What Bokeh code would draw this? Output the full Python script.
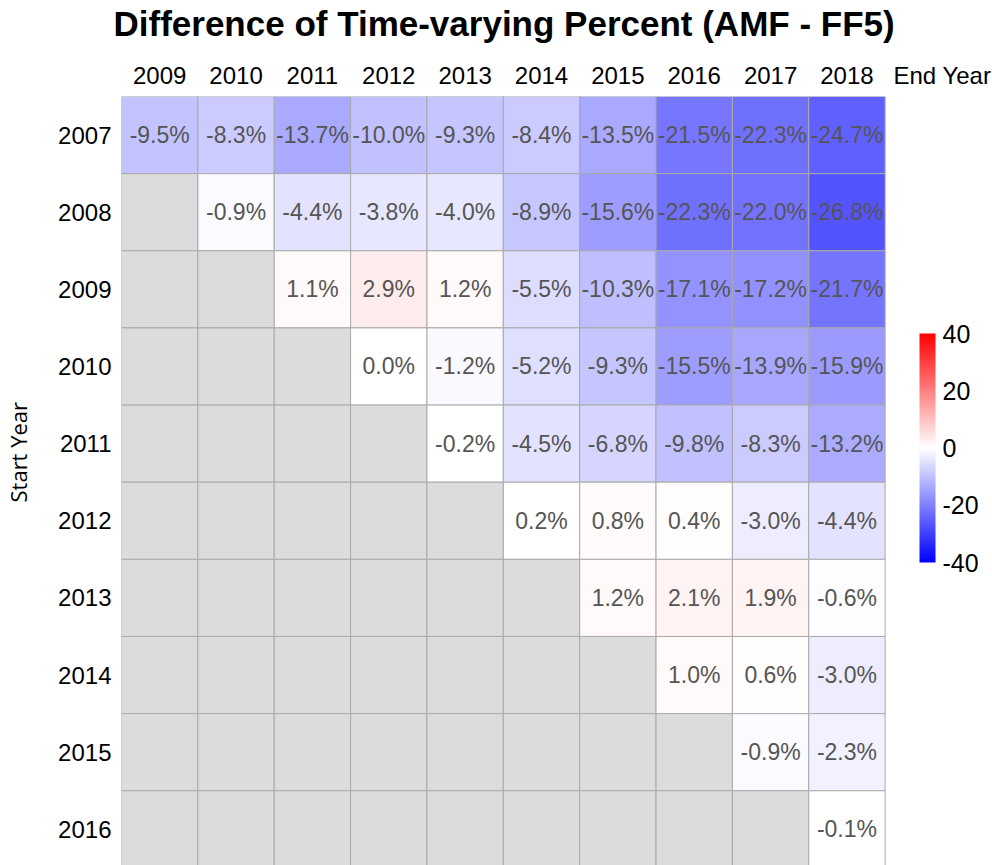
import math
from bokeh.plotting import figure
from bokeh.models import (ColumnDataSource, LinearColorMapper, ColorBar, FixedTicker,
                          Range1d, Title)
from bokeh.core.properties import value
from bokeh.embed import file_html
from bokeh.resources import INLINE

start_years = [2007, 2008, 2009, 2010, 2011, 2012, 2013, 2014, 2015, 2016]
end_years = [2009, 2010, 2011, 2012, 2013, 2014, 2015, 2016, 2017, 2018]

# percent differences, one list per start year, aligned with end_years (None = no value)
row_2007 = [-9.5, -8.3, -13.7, -10.0, -9.3, -8.4, -13.5, -21.5, -22.3, -24.7]
row_2008 = [None, -0.9, -4.4, -3.8, -4.0, -8.9, -15.6, -22.3, -22.0, -26.8]
row_2009 = [None, None, 1.1, 2.9, 1.2, -5.5, -10.3, -17.1, -17.2, -21.7]
row_2010 = [None, None, None, 0.0, -1.2, -5.2, -9.3, -15.5, -13.9, -15.9]
row_2011 = [None, None, None, None, -0.2, -4.5, -6.8, -9.8, -8.3, -13.2]
row_2012 = [None, None, None, None, None, 0.2, 0.8, 0.4, -3.0, -4.4]
row_2013 = [None, None, None, None, None, None, 1.2, 2.1, 1.9, -0.6]
row_2014 = [None, None, None, None, None, None, None, 1.0, 0.6, -3.0]
row_2015 = [None, None, None, None, None, None, None, None, -0.9, -2.3]
row_2016 = [None, None, None, None, None, None, None, None, None, -0.1]
rows = [row_2007, row_2008, row_2009, row_2010, row_2011,
        row_2012, row_2013, row_2014, row_2015, row_2016]

colorbar_ticks = [-40, -20, 0, 20, 40]
colorbar_labels = {-40: "-40", -20: "-20", 0: "0", 20: "20", 40: "40"}

# blue -> white -> red palette
def _hex(r, g, b):
    return "#%02x%02x%02x" % (int(round(r)), int(round(g)), int(round(b)))

palette = []
n_half = 128
for k in range(n_half):
    t = k / (n_half - 1)
    palette.append(_hex(255 * t, 255 * t, 255))
for k in range(n_half):
    t = k / (n_half - 1)
    palette.append(_hex(255, 255 * (1 - t), 255 * (1 - t)))

xs, ys, vals, labels = [], [], [], []
for sy, row in zip(start_years, rows):
    for ey, v in zip(end_years, row):
        xs.append(ey)
        ys.append(sy)
        if v is None:
            vals.append(float("nan"))
            labels.append("")
        else:
            vals.append(v)
            labels.append(f"{v:.1f}%")

src = ColumnDataSource(dict(x=xs, y=ys, v=vals, label=labels))

mapper = LinearColorMapper(palette=palette, low=-40, high=40, nan_color="#dcdcdc")

# x range extends past the last column to leave room for the "End Year" label and colour bar
END_YEAR_TICK = 2019.25
p = figure(width=992, height=865,
           x_range=Range1d(2008.5, 2019.906),
           y_range=Range1d(2016.469, 2006.5),
           output_backend="svg", toolbar_location=None,
           x_axis_location="above",
           min_border_left=121, min_border_right=0,
           min_border_top=96, min_border_bottom=0,
           title="Difference of Time-varying Percent (AMF - FF5)")

p.title.text_font = "Liberation Sans"
p.title.text_font_size = "35px"
p.title.text_font_style = "bold"
p.title.align = "left"
p.title.offset = -8
p.title.standoff = 0
p.title.text_color = "black"

p.rect(x="x", y="y", width=1, height=1, source=src,
       fill_color={"field": "v", "transform": mapper},
       line_color="#aaaaaa", line_width=1)

p.text(x="x", y="y", text="label", source=src,
       text_align="center", text_baseline="middle",
       text_font=value("Liberation Sans"), text_font_size="23px",
       text_color="#555555")

p.xaxis.ticker = FixedTicker(ticks=end_years + [END_YEAR_TICK])
p.xaxis.major_label_overrides = {END_YEAR_TICK: "End Year"}
p.yaxis.ticker = FixedTicker(ticks=start_years)
for ax in (p.xaxis, p.yaxis):
    ax.major_label_text_font = "Liberation Sans"
    ax.major_label_text_font_size = "24px"
    ax.major_label_text_color = "black"
    ax.axis_line_color = None
    ax.major_tick_line_color = None
    ax.minor_tick_line_color = None
    ax.major_tick_out = 0
    ax.major_tick_in = 0
    # blank axis label used only as a spacer between tick labels and the titles
    ax.axis_label = " "
    ax.axis_label_text_font_size = "1px"
p.xaxis.major_label_standoff = 8
p.yaxis.major_label_standoff = 10
p.xaxis.axis_label_standoff = 12
p.yaxis.axis_label_standoff = 18

p.grid.visible = False
p.outline_line_color = None

p.add_layout(Title(text="Start Year", align="left", offset=363, standoff=0,
                   text_font="Open Sans", text_font_size="22px",
                   text_font_style="normal", text_color="black"), "left")

cb = ColorBar(color_mapper=mapper, ticker=FixedTicker(ticks=colorbar_ticks),
              major_label_overrides=colorbar_labels,
              width=16, height=229, location=(798, 303), padding=0, margin=0,
              label_standoff=7, major_label_text_font="Liberation Sans",
              major_label_text_font_size="25px", major_label_text_color="black",
              major_tick_line_color=None, minor_tick_line_color=None,
              bar_line_color=None, border_line_color=None,
              background_fill_color=None)
p.add_layout(cb, "center")

open("out.html", "w").write(file_html(p, INLINE))
